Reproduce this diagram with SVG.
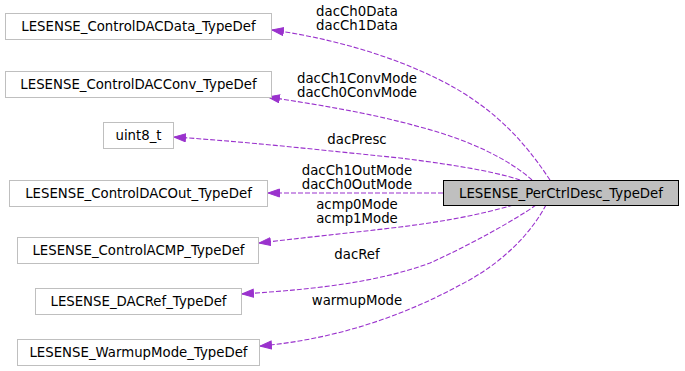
<svg xmlns="http://www.w3.org/2000/svg" width="685" height="371" viewBox="0 0 685 371">
  <style>
    text { font-family: "DejaVu Sans", "Liberation Sans", sans-serif; font-size: 13.3px; fill: #000; }
    .node rect { fill: #ffffff; stroke: #bfbfbf; stroke-width: 1; }
    .node.main rect { fill: #bfbfbf; stroke: #000000; }
    .node text { text-anchor: middle; }
    .edge path { fill: none; stroke: #9a32cd; stroke-width: 1.1; stroke-dasharray: 5,2; }
    .edge text { text-anchor: middle; }
  </style>
  <defs>
    <!-- filled arrowhead placed at the target end of each dependency edge -->
    <marker id="arrow" markerUnits="userSpaceOnUse" markerWidth="14" markerHeight="10" refX="12" refY="4.5" orient="auto">
      <path d="M0.5,0.5 L12,4.5 L0.5,8.5 z" fill="#9a32cd" stroke="#9a32cd" stroke-width="1"/>
    </marker>
  </defs>
  <rect width="685" height="371" fill="#ffffff"/>

  <g id="edges">
    <g class="edge" id="e-dacData">
      <path d="M550,180 C530,150 500,110 440,80 C390,55 330,38 272,30" marker-end="url(#arrow)"/>
      <text x="357" y="16">dacCh0Data</text>
      <text x="357" y="30">dacCh1Data</text>
    </g>
    <g class="edge" id="e-dacConv">
      <path d="M532,180 C510,160 470,140 420,127 C370,113 320,105 268,97" marker-end="url(#arrow)"/>
      <text x="357" y="83">dacCh1ConvMode</text>
      <text x="357" y="97">dacCh0ConvMode</text>
    </g>
    <g class="edge" id="e-dacPresc">
      <path d="M520,180 C490,170 440,163 400,158 C320,150 250,142 174,137" marker-end="url(#arrow)"/>
      <text x="357" y="144">dacPresc</text>
    </g>
    <g class="edge" id="e-dacOut">
      <path d="M443,193 L268,193" marker-end="url(#arrow)"/>
      <text x="357" y="175">dacCh1OutMode</text>
      <text x="357" y="189">dacCh0OutMode</text>
    </g>
    <g class="edge" id="e-acmp">
      <path d="M513,205 C480,215 440,222 400,227 C350,233 300,238 259,243" marker-end="url(#arrow)"/>
      <text x="357" y="209">acmp0Mode</text>
      <text x="357" y="223">acmp1Mode</text>
    </g>
    <g class="edge" id="e-dacRef">
      <path d="M536,205 C515,220 470,245 430,263 C370,285 300,290 242,294" marker-end="url(#arrow)"/>
      <text x="357" y="259">dacRef</text>
    </g>
    <g class="edge" id="e-warmup">
      <path d="M546,205 C530,235 500,265 460,285 C400,318 330,340 260,346" marker-end="url(#arrow)"/>
      <text x="357" y="305">warmupMode</text>
    </g>
  </g>

  <g class="node" id="n-dacData">
    <rect x="5.5" y="13.5" width="266" height="26"/>
    <text x="138.5" y="30.5">LESENSE_ControlDACData_TypeDef</text>
  </g>
  <g class="node" id="n-dacConv">
    <rect x="5.5" y="71.5" width="266" height="26"/>
    <text x="138.5" y="88.5">LESENSE_ControlDACConv_TypeDef</text>
  </g>
  <g class="node" id="n-uint8">
    <rect x="103.5" y="122.5" width="70" height="26"/>
    <text x="138.5" y="139.5">uint8_t</text>
  </g>
  <g class="node" id="n-dacOut">
    <rect x="9.5" y="180.5" width="258" height="26"/>
    <text x="138.5" y="197.5">LESENSE_ControlDACOut_TypeDef</text>
  </g>
  <g class="node" id="n-acmp">
    <rect x="17.5" y="237.5" width="241" height="26"/>
    <text x="138.5" y="254.5">LESENSE_ControlACMP_TypeDef</text>
  </g>
  <g class="node" id="n-dacRef">
    <rect x="35.5" y="288.5" width="206" height="26"/>
    <text x="138.5" y="305.5">LESENSE_DACRef_TypeDef</text>
  </g>
  <g class="node" id="n-warmup">
    <rect x="17.5" y="339.5" width="242" height="26"/>
    <text x="138.5" y="356.5">LESENSE_WarmupMode_TypeDef</text>
  </g>
  <g class="node main" id="n-perCtrl">
    <rect x="443.5" y="180.5" width="235" height="25"/>
    <text x="561" y="197.5">LESENSE_PerCtrlDesc_TypeDef</text>
  </g>
</svg>
